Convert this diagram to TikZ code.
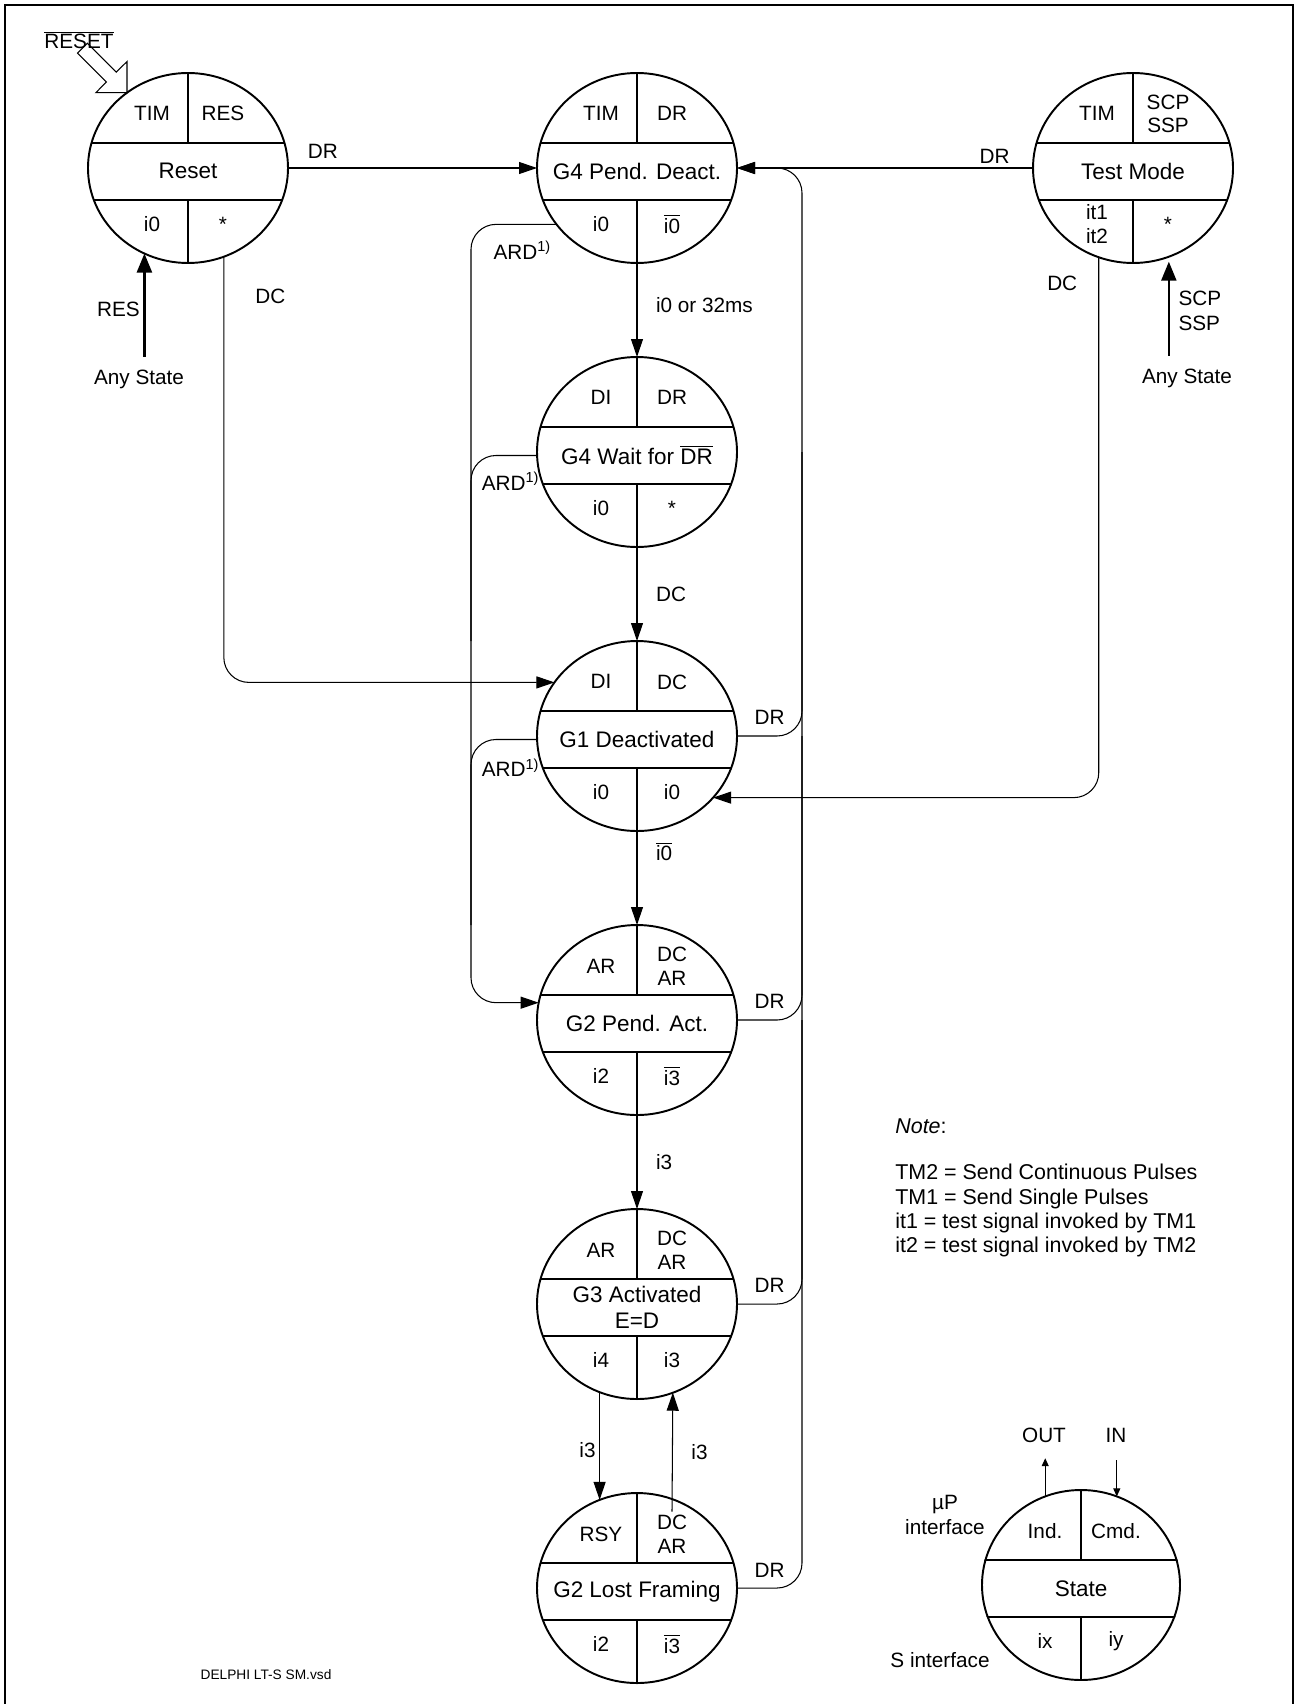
\documentclass[tikz,border=0pt]{standalone}
\usepackage{fontspec}
\setmainfont{Liberation Sans}
\usepackage{tikz}
\usetikzlibrary{shapes.geometric, arrows.meta, positioning, calc}
\tikzstyle{fsmstate} = [ellipse, draw=black, line width=1.1pt, minimum width=4cm, minimum height=3.8cm,
    inner sep=0pt, outer sep=0pt]
\tikzstyle{divline} = [line width=0.9pt]
\tikzstyle{celltxt} = [font=\fontsize{11.8}{13.6}\selectfont, align=center, inner sep=1.5pt]
\tikzstyle{midtxt} = [font=\fontsize{12.8}{15}\selectfont, align=center, inner sep=1pt]
\tikzstyle{lbl} = [font=\fontsize{11.8}{14}\selectfont, inner sep=2pt]
\tikzstyle{link} = [line width=0.6pt, rounded corners=5mm]
\tikzstyle{arrow} = [link, -{Triangle[length=3.6mm, width=2.4mm]}]
\tikzstyle{thickarrow} = [line width=1.3pt, -{Triangle[length=3.8mm, width=3mm]}]
\tikzstyle{tinyarrow} = [line width=0.6pt, -{Triangle[length=1.6mm, width=1.4mm]}]
\newcommand{\ovl}[1]{$\overline{\mbox{#1}}$}
% state name, half height, top left, top right, name, bottom left, bottom right
\newcommand{\splitstate}[7]{%
  \begin{scope}[shift={(#1.center)}]
    \begin{scope}
      \clip (0,0) ellipse (100 and #2);
      \draw[divline] (-110,{-0.265*#2}) -- (110,{-0.265*#2});
      \draw[divline] (-110,{0.335*#2}) -- (110,{0.335*#2});
      \draw[divline] (0,-110) -- (0,{-0.265*#2});
      \draw[divline] (0,{0.335*#2}) -- (0,110);
    \end{scope}
    \node (#1-tl) [celltxt] at (-36,{-0.57*#2}) {#3};
    \node (#1-tr) [celltxt] at (35,{-0.57*#2}) {#4};
    \node (#1-mid) [midtxt] at (0,{0.035*#2}) {#5};
    \node (#1-bl) [celltxt] at (-36,{0.59*#2}) {#6};
    \node (#1-br) [celltxt] at (35,{0.59*#2}) {#7};
  \end{scope}}
\newcommand{\lowstar}{\raisebox{-2.5pt}{*}}

\begin{document}
\begin{tikzpicture}[x=0.2mm, y=-0.2mm, node distance=1.88cm and 4.98cm]
\useasboundingbox (0,0) rectangle (1296,1704);
\draw[line width=1.6pt] (5,1704) -- (5,5) -- (1293,5) -- (1293,1704);

% states
\node (g4pd) [fsmstate] at (637,168) {};
\node (g4wait) [fsmstate, below=of g4pd] {};
\node (g1) [fsmstate, below=of g4wait] {};
\node (g2pa) [fsmstate, below=of g1] {};
\node (g3) [fsmstate, below=of g2pa] {};
\node (g2lf) [fsmstate, below=of g3] {};
\node (reset) [fsmstate, left=of g4pd] {};
\node (tmode) [fsmstate, right=5.92cm of g4pd] {};
\node (legend) [fsmstate, minimum width=3.96cm] at (1081,1585) {};

\splitstate{reset}{95}{TIM}{RES}{Reset}{i0}{\lowstar}
\splitstate{g4pd}{95}{TIM}{DR}{G4 Pend. Deact.}{i0}{\ovl{i0}}
\splitstate{g4wait}{95}{DI}{DR}{G4 Wait for \ovl{DR}}{i0}{\lowstar}
\splitstate{g1}{95}{DI}{DC}{G1 Deactivated}{i0}{i0}
\splitstate{g2pa}{95}{AR}{DC\\AR}{G2 Pend. Act.}{i2}{\ovl{i3}}
\splitstate{g3}{95}{AR}{DC\\AR}{G3 Activated\\E=D}{i4}{i3}
\splitstate{g2lf}{95}{RSY}{DC\\AR}{G2 Lost Framing}{i2}{\ovl{i3}}
\splitstate{tmode}{95}{TIM}{SCP\\SSP}{Test Mode}{it1\\it2}{\lowstar}
\splitstate{legend}{95}{Ind.}{Cmd.}{State}{ix}{iy}

% reset input
\node (rstsig) [lbl] at (79,40) {\ovl{RESET}};
\coordinate (rsttip) at (reset.129.1);
\draw[line width=0.6pt] (rsttip) -- ++(0,-31.2) -- ++(-10.7,10.6) -- ++(-28.9,-28.9) -- ++(-9.9,9.9)
    -- ++(28.9,28.9) -- ++(-10.6,10.7) -- cycle;

% transitions
\draw[arrow] (reset) -- node[lbl, above=1mm, pos=0.14]{DR} (g4pd);
\draw[arrow] (tmode) -- node[lbl, above, pos=0.13]{DR} (g4pd);
\draw[arrow] (g4pd) -- node[lbl, right=3mm, pos=0.45]{i0 or 32ms} (g4wait);
\draw[arrow] (g4wait) -- node[lbl, right=3mm]{DC} (g1);
\draw[arrow] (g1) -- node[lbl, right=3mm, pos=0.22]{\ovl{i0}} (g2pa);
\draw[arrow] (g2pa) -- node[lbl, right=3mm]{i3} (g3);
\draw[arrow] (g3.-113.4) -- node[lbl, left, pos=0.54]{i3} (g2lf.113.4);
\draw[arrow] (g2lf-tr.north) -- node[lbl, right=3mm]{i3} (g3.-68.5);
\draw[arrow] (reset.-68.5) |- node[lbl, right=5.5mm, pos=0.047]{DC} (g1.147.4);
\draw[arrow] (tmode.-111.5) |- node[lbl, left=3.5mm, pos=0.024]{DC} (g1.-39.3);

% any state inputs
\node (anyrst) [lbl] at (139,379) {Any State};
\node (anytm) [lbl] at (1187,378) {Any State};
\draw[thickarrow, shorten <=1.8mm] (reset.243.4 |- anyrst.north) -- node[lbl, left]{RES} (reset.243.4);
\draw[thickarrow, shorten <=1.8mm, shorten >=1mm] (tmode.-68.5 |- anytm.north) -- node[lbl, right=1mm, align=left]{SCP\\SSP} (tmode.-68.5);

% ARD returns
\coordinate (ardbus) at (471,600);
\draw[arrow] (g4pd.215.5) -| node[lbl, below=2.5mm, pos=0.2]{ARD\textsuperscript{1)}} (ardbus) |- (g2pa.170.8);
\draw[link] (g4wait.182) -| node[lbl, below=2.5mm, pos=0.2]{ARD\textsuperscript{1)}} (ardbus |- g1.north);
\draw[link] (g1.182) -| node[lbl, below=3mm, pos=0.2]{ARD\textsuperscript{1)}} (ardbus |- g2pa.north);

% DR returns
\coordinate (drbus) at (802,900);
\draw[arrow] (g2lf.east) -| node[lbl, above=1.4mm, pos=0.25]{DR} (drbus) |- (g4pd.east);
\draw[link] (g1.east) -| node[lbl, above=1.4mm, pos=0.25]{DR} (drbus |- g4wait.center);
\draw[link] (g2pa.east) -| node[lbl, above=1.4mm, pos=0.25]{DR} (drbus |- g1.center);
\draw[link] (g3.east) -| node[lbl, above=1.4mm, pos=0.25]{DR} (drbus |- g2pa.center);

% note and legend
\node (note) [lbl, align=left, anchor=north west, inner sep=0pt, font=\fontsize{12.2}{13.8}\selectfont] at (895,1118)
    {\textit{Note}:\\[12.8pt]TM2 = Send Continuous Pulses\\TM1 = Send Single Pulses\\it1 = test signal invoked by TM1\\it2 = test signal invoked by TM2};
\node (outlbl) [lbl] at (1044,1435) {OUT};
\node (inlbl) [lbl] at (1116,1435) {IN};
\draw[tinyarrow, shorten >=2.4mm] (legend.112.1) -- (legend.112.1 |- outlbl.south);
\draw[tinyarrow, shorten <=2.8mm] (inlbl.south -| legend.68.5) -- (legend.68.5);
\node (upif) [lbl, align=center] at (945,1515) {µP\\interface};
\node (sif) [lbl] at (940,1660) {S interface};
\node (vsdname) [font=\fontsize{7.8}{9}\selectfont, inner sep=0pt] at (266,1675) {DELPHI LT-S SM.vsd};
\end{tikzpicture}
\end{document}
